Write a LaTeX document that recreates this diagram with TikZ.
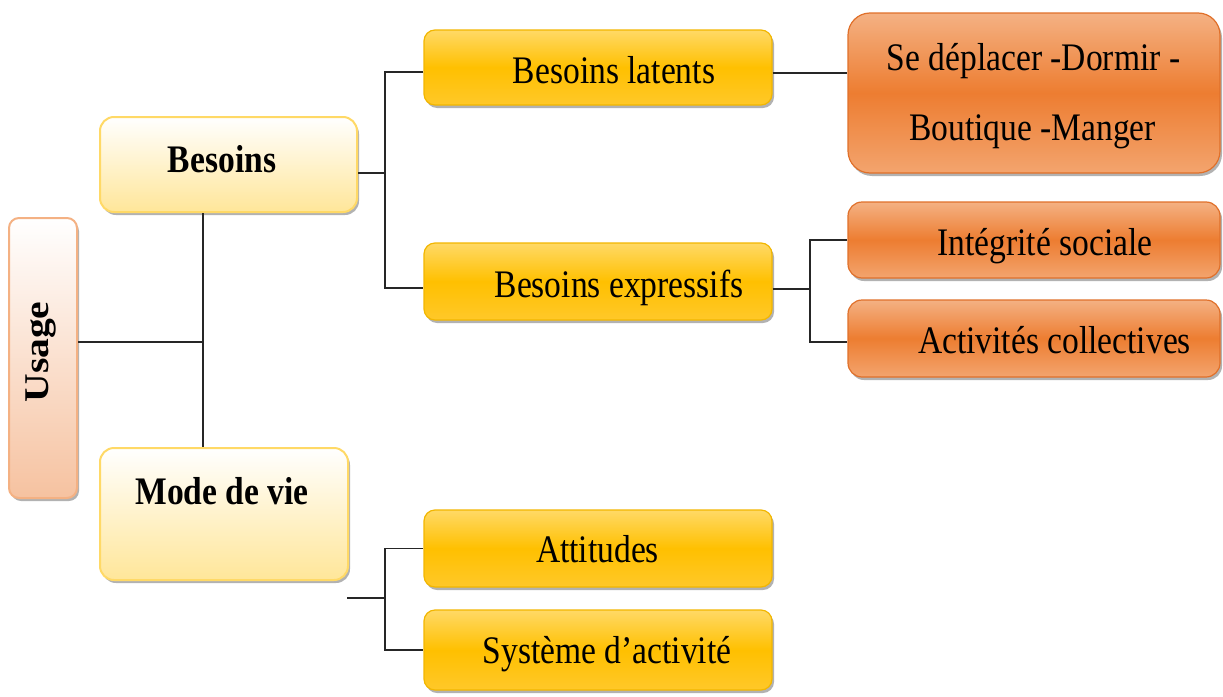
\documentclass[tikz,border=0pt]{standalone}
\usepackage{fontspec}
\setmainfont{Liberation Serif}[FakeStretch=0.86]
\newfontfamily\usagefont{Liberation Serif}[FakeStretch=1.14]
\usetikzlibrary{shadows}

\definecolor{goldmid}{HTML}{FFC000}
\definecolor{goldtop}{HTML}{FFD966}
\definecolor{goldbot}{HTML}{FFC829}
\definecolor{goldline}{HTML}{F2B600}
\definecolor{orgmid}{HTML}{ED7D31}
\definecolor{orgtop}{HTML}{F4B183}
\definecolor{orgbot}{HTML}{F3A46E}
\definecolor{orgline}{HTML}{E0702A}
\definecolor{paleyel}{HTML}{FFE699}
\definecolor{paleline}{HTML}{FFD966}
\definecolor{peach}{HTML}{F6C2A0}
\definecolor{peachline}{HTML}{F4B183}

\tikzset{
  boxbase/.style={rectangle, inner sep=0pt, line width=1.2pt,
    drop shadow={shadow xshift=2pt, shadow yshift=-3pt, fill=black!55, opacity=0.55}},
  goldbox/.style={boxbase, rounded corners=11pt, draw=goldline,
    top color=goldtop, bottom color=goldbot, middle color=goldmid},
  orgbox/.style={boxbase, rounded corners=14pt, draw=orgline,
    top color=orgtop, bottom color=orgbot, middle color=orgmid},
  palebox/.style={boxbase, rounded corners=14pt, draw=paleline, line width=2pt,
    top color=white, bottom color=paleyel},
  usagebox/.style={boxbase, rounded corners=10pt, draw=peachline, line width=2pt,
    top color=white, bottom color=peach},
  txt/.style={inner sep=0pt, font=\fontsize{39}{46}\selectfont},
  btxt/.style={txt, font=\fontsize{39}{46}\selectfont\bfseries},
  link/.style={draw=black!85, line width=1.4pt}
}

\begin{document}
\begin{tikzpicture}[x=1pt, y=-1pt]
  \useasboundingbox (0,0) rectangle (1223,696);

  % boxes
  \node[usagebox, minimum width=68pt, minimum height=280pt] (usage) at (43,358) {};
  \node[palebox, minimum width=257pt, minimum height=95pt] (besoins) at (228.5,164.5) {};
  \node[palebox, minimum width=248pt, minimum height=132pt] (mode) at (224,514) {};
  \node[goldbox, minimum width=348pt, minimum height=75pt] (latents) at (598,67.5) {};
  \node[goldbox, minimum width=348pt, minimum height=77pt] (expressifs) at (598,281.5) {};
  \node[goldbox, minimum width=348pt, minimum height=77pt] (attitudes) at (598,548.5) {};
  \node[goldbox, minimum width=348pt, minimum height=80pt] (systeme) at (598,650) {};
  \node[orgbox, rounded corners=22pt, minimum width=372pt, minimum height=160pt] (deplacer) at (1034,93) {};
  \node[orgbox, minimum width=372pt, minimum height=76pt] (integrite) at (1034,240) {};
  \node[orgbox, minimum width=372pt, minimum height=77pt] (activites) at (1034,338.5) {};

  % labels
  \node[rotate=90, inner sep=0pt, font=\usagefont\fontsize{34.7}{40}\selectfont\bfseries] (t-usage) at (41,352) {Usage};
  \node[btxt, anchor=base] (t-besoins) at (222,172) {Besoins};
  \node[btxt, anchor=base] (t-mode) at (222,504) {Mode de vie};
  \node[txt, anchor=base] (t-latents) at (614,83) {Besoins latents};
  \node[txt, anchor=base] (t-expressifs) at (619,297) {Besoins expressifs};
  \node[txt, anchor=base] (t-attitudes) at (597.5,562) {Attitudes};
  \node[txt, anchor=base] (t-systeme) at (607,663) {Système d’activité};
  \node[txt, anchor=base] (t-deplacer1) at (1033.5,70) {Se déplacer -Dormir -};
  \node[txt, anchor=base] (t-deplacer2) at (1032.5,140) {Boutique -Manger};
  \node[txt, anchor=base] (t-integrite) at (1045,255) {Intégrité sociale};
  \node[txt, anchor=base] (t-activites) at (1054.5,353) {Activités collectives};

  % junction points
  \coordinate (jusage) at (203,342);
  \coordinate (jbes) at (385,173);
  \coordinate (jexp) at (810,289);
  \coordinate (jmode) at (385,598);
  \coordinate (mfree) at (347,598);

  % Usage -> Besoins / Mode de vie
  \draw[link] (usage.east |- jusage) -- (jusage);
  \draw[link] (besoins.south -| jusage) -- (mode.north -| jusage);

  % Besoins -> latents / expressifs
  \draw[link] (besoins.east |- jbes) -- (jbes);
  \draw[link] (latents.west |- 0,72) -| (jbes) |- (expressifs.west |- 0,288);

  % Besoins latents -> Se deplacer
  \draw[link] (latents.east |- 0,73) -- (deplacer.west |- 0,73);

  % Besoins expressifs -> Integrite / Activites
  \draw[link] (expressifs.east |- jexp) -- (jexp);
  \draw[link] (integrite.west) -| (jexp) |- (activites.west |- 0,342);

  % Mode de vie -> Attitudes / Systeme
  \draw[link] (mfree) -- (jmode);
  \draw[link] (attitudes.west) -| (jmode) |- (systeme.west);
\end{tikzpicture}
\end{document}
